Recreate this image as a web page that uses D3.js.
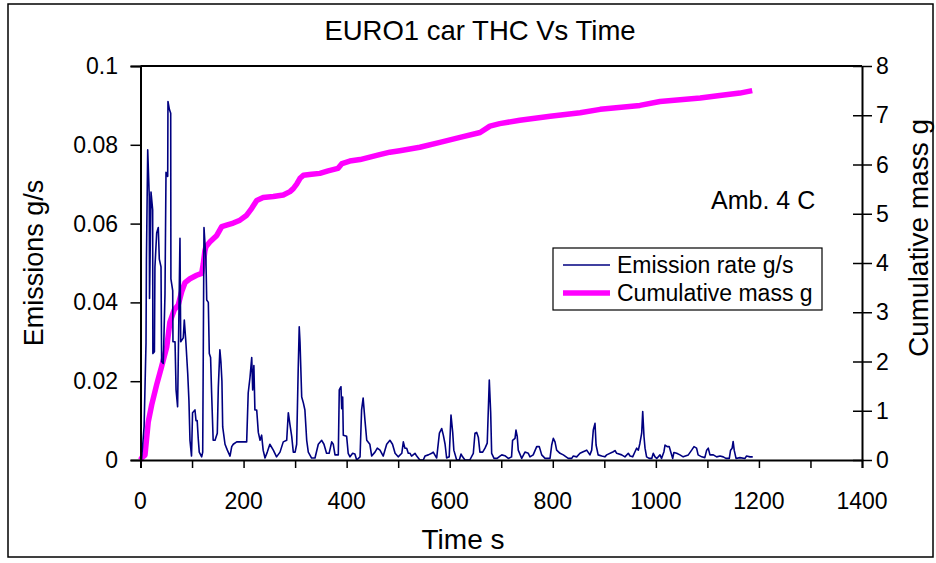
<!DOCTYPE html>
<html>
<head>
<meta charset="utf-8">
<script src="https://cdn.jsdelivr.net/npm/d3@7"></script>
<style>
  html, body { margin: 0; padding: 0; background: #fff; }
  text { font-family: "Liberation Sans", Arial, sans-serif; fill: #000; }
</style>
</head>
<body>
<svg id="chart" width="936" height="563"></svg>
<script>
// Emission rate trace (g/s) against time (s)
const rateTime = [0, 2, 7, 10.7, 11.5, 14, 17, 17.5, 20.4, 23.6, 24, 27, 28, 31.4, 34.5, 36.5, 39.8, 41, 44.2, 47.5, 49.5, 52.8, 53.3, 56, 58.6, 59, 62.5, 63, 67, 69, 72, 76.6, 78, 83, 85, 88, 91.6, 94, 96, 99, 101, 105.7, 107.7, 110, 112, 114, 118.7, 120.7, 123.2, 127, 128.5, 131.6, 133.5, 136, 138, 141, 144.6, 149, 151, 154, 156, 158, 159.5, 164, 168.5, 173.7, 177, 180, 186.7, 193, 206, 209, 212.5, 215.8, 217.7, 220, 222, 225.5, 228.6, 232, 235, 238, 241.6, 246, 251, 257.7, 264, 270.7, 277, 283.7, 286.8, 290, 293.4, 296.5, 300, 303, 306, 308, 309.5, 312.8, 316, 319, 322.5, 325.6, 332, 338.6, 345, 351.6, 356, 361, 366, 371, 374, 377.4, 383.8, 385.7, 389, 390.4, 392.3, 393.5, 400, 403, 406.5, 411.7, 416, 419.5, 426, 429, 432, 435.6, 439, 445, 448.6, 455, 459.5, 464.7, 471, 477.7, 484, 489, 494, 500, 507, 510, 513, 516.5, 519.6, 523, 526, 532.6, 536, 542, 548.7, 552, 558.5, 565, 568, 574.7, 580, 584.4, 587.6, 591, 594, 599, 602.5, 605.8, 608, 613.5, 618.6, 622, 625, 629.6, 639, 645.8, 649, 652.3, 655.5, 658.6, 664, 668.5, 672.8, 676.8, 679.5, 681.4, 686, 692, 697.6, 701, 707, 713.7, 720, 722, 726.7, 728.6, 731, 733, 739.7, 746, 752.5, 755.8, 762, 768.8, 773.8, 778.5, 785, 794.6, 797.9, 801, 804.3, 807.5, 814, 820.4, 830, 836.7, 839.8, 846.4, 852.8, 859, 865.8, 872, 875.5, 878.6, 881.9, 884, 888, 895, 901, 904.6, 917.4, 920.7, 924, 933.7, 940, 946.5, 950, 955, 959.5, 962.8, 966, 969, 972.5, 974.5, 977, 979, 982, 987, 992, 995, 998.4, 1001.7, 1008, 1011, 1015.7, 1017.8, 1022, 1026, 1028.8, 1032.7, 1035, 1040.4, 1046.8, 1053, 1063, 1069.5, 1074, 1079, 1082, 1089, 1095, 1098.6, 1101.7, 1105, 1111.5, 1118, 1124.5, 1130.8, 1136, 1142.5, 1145, 1148, 1150, 1152, 1155.6, 1163, 1173, 1176, 1182.6, 1188];
const rateValue = [0, 0, 0.0085, 0.0297, 0.0508, 0.0787, 0.0668, 0.041, 0.068, 0.0635, 0.027, 0.0275, 0.049, 0.0576, 0.059, 0.051, 0.049, 0.025, 0.0245, 0.042, 0.073, 0.072, 0.091, 0.089, 0.088, 0.046, 0.043, 0.030, 0.030, 0.0178, 0.0135, 0.0563, 0.030, 0.031, 0.0355, 0.030, 0.022, 0.015, 0.005, 0.001, 0.012, 0.0127, 0.010, 0.010, 0.0055, 0.002, 0.0008, 0.002, 0.059, 0.0508, 0.0406, 0.040, 0.027, 0.026, 0.017, 0.005, 0.005, 0.0068, 0.0185, 0.028, 0.025, 0.020, 0.0084, 0.004, 0.0025, 0.001, 0.0034, 0.004, 0.0046, 0.0046, 0.0046, 0.017, 0.021, 0.026, 0.0178, 0.024, 0.0127, 0.0127, 0.007, 0.005, 0.0063, 0.0025, 0.0005, 0.002, 0.004, 0.0025, 0.0008, 0.002, 0.0046, 0.005, 0.012, 0.009, 0.006, 0.002, 0.002, 0.004, 0.023, 0.0338, 0.030, 0.016, 0.0145, 0.0127, 0.005, 0.002, 0.0005, 0.0005, 0.004, 0.005, 0.004, 0.0017, 0.0017, 0.0046, 0.004, 0.0013, 0.0013, 0.0178, 0.0186, 0.013, 0.016, 0.0063, 0.006, 0.0017, 0.0008, 0.0017, 0.0015, 0, 0.0008, 0.0127, 0.0157, 0.010, 0.005, 0.004, 0.001, 0.002, 0.003, 0.0025, 0.001, 0.004, 0.005, 0.004, 0.0017, 0.0008, 0.0017, 0.0046, 0.003, 0.003, 0.0017, 0.0017, 0.001, 0.0017, 0.001, 0, 0, 0.001, 0.0013, 0.0017, 0.002, 0.0005, 0.0068, 0.008, 0.0063, 0.004, 0.0005, 0.0008, 0.0114, 0.007, 0.0025, 0, 0, 0.0015, 0.0008, 0, 0, 0.0017, 0.0068, 0.007, 0.0058, 0.002, 0.002, 0.003, 0.0043, 0.0203, 0.012, 0.0017, 0.0004, 0.0004, 0.001, 0.0013, 0.0011, 0.0004, 0.0008, 0.005, 0.0055, 0.0076, 0.006, 0.0025, 0.0004, 0.002, 0.0017, 0.0008, 0.0013, 0.0034, 0.0034, 0.0013, 0.0004, 0.0004, 0.0038, 0.0055, 0.0046, 0.0025, 0.0017, 0.0013, 0.0004, 0.0004, 0.001, 0.0008, 0.0017, 0.0021, 0.0025, 0.0013, 0.0025, 0.0076, 0.0093, 0.0038, 0.0013, 0.001, 0.0008, 0.0013, 0.0021, 0.0024, 0.0017, 0.0013, 0.0008, 0.0017, 0.001, 0.0008, 0.0021, 0.003, 0.0025, 0.0042, 0.0068, 0.0123, 0.0059, 0.003, 0.0008, 0.0004, 0.0004, 0.0017, 0.0008, 0.0004, 0.0013, 0.0004, 0.0021, 0.0038, 0.0034, 0.0034, 0.0021, 0.0004, 0.0019, 0.0017, 0.0013, 0.0008, 0.0013, 0.0025, 0.0034, 0.003, 0.0013, 0.0008, 0.0006, 0.0025, 0.003, 0.0013, 0.0013, 0.0008, 0.001, 0.0008, 0.0004, 0.0004, 0.0025, 0.003, 0.0047, 0.0025, 0.0004, 0.0006, 0.0004, 0.001, 0.0008, 0.0008];

// Cumulative mass (g) against time (s)
const massTime = [0, 3, 8.7, 12, 15, 21.7, 31.4, 41, 51, 57, 65.6, 73.3, 80, 86.3, 96, 109, 118.7, 121.9, 125, 127, 135, 148, 157.6, 167, 180, 193, 206, 215.8, 225.5, 238, 257.7, 277, 290, 296.5, 303, 309.5, 316, 332, 348, 364, 383, 391, 406, 426, 445, 464, 484, 503, 542, 581, 620, 659, 678, 697, 736, 795, 853, 892, 969, 1008, 1086, 1124, 1163, 1187];
const massValue = [0, 0.05, 0.1, 0.45, 0.77, 1.12, 1.53, 1.9, 2.3, 2.8, 3.05, 3.15, 3.42, 3.6, 3.68, 3.75, 3.79, 3.99, 4.25, 4.33, 4.43, 4.56, 4.74, 4.77, 4.81, 4.87, 4.97, 5.11, 5.27, 5.33, 5.35, 5.38, 5.45, 5.51, 5.6, 5.72, 5.78, 5.8, 5.82, 5.87, 5.92, 6.02, 6.07, 6.1, 6.15, 6.2, 6.25, 6.28, 6.35, 6.45, 6.55, 6.65, 6.78, 6.83, 6.9, 6.98, 7.05, 7.12, 7.2, 7.28, 7.35, 7.4, 7.45, 7.5];

// Axis ticks
const timeTicks = [0, 200, 400, 600, 800, 1000, 1200, 1400];
const timeMinorTicks = d3.range(0, 1401, 100);
const rateTicks = [0, 0.02, 0.04, 0.06, 0.08, 0.1];
const rateTickLabels = ["0", "0.02", "0.04", "0.06", "0.08", "0.1"];
const massTicks = [0, 1, 2, 3, 4, 5, 6, 7, 8];

const seriesNames = ["Emission rate g/s", "Cumulative mass g"];
const seriesColors = ["#000080", "#ff00ff"];

const svg = d3.select("#chart");
const plot = { left: 140.5, right: 862, top: 66, bottom: 460 };

const x = d3.scaleLinear().domain([0, 1400]).range([plot.left, plot.right]);
const yRate = d3.scaleLinear().domain([0, 0.1]).range([plot.bottom, plot.top]);
const yMass = d3.scaleLinear().domain([0, 8]).range([plot.bottom, plot.top]);

// Outer chart frame
svg.append("rect")
  .attr("x", 8).attr("y", 4).attr("width", 925).attr("height", 553)
  .attr("fill", "#fff").attr("stroke", "#000").attr("stroke-width", 1.5);

// Title
svg.append("text")
  .attr("x", 480).attr("y", 40)
  .attr("text-anchor", "middle")
  .attr("font-size", 27.5)
  .text("EURO1 car THC Vs Time");

// Series
const rateData = rateTime.map((t, i) => [t, rateValue[i]]);
const massData = massTime.map((t, i) => [t, massValue[i]]);

svg.append("path")
  .datum(massData)
  .attr("fill", "none")
  .attr("stroke", seriesColors[1])
  .attr("stroke-width", 5.5)
  .attr("stroke-linejoin", "round")
  .attr("d", d3.line().x(d => x(d[0])).y(d => yMass(d[1])));

svg.append("path")
  .datum(rateData)
  .attr("fill", "none")
  .attr("stroke", seriesColors[0])
  .attr("stroke-width", 1.6)
  .attr("stroke-linejoin", "round")
  .attr("d", d3.line().x(d => x(d[0])).y(d => yRate(d[1])));

// Plot box: top edge
svg.append("line")
  .attr("x1", plot.left).attr("x2", plot.right)
  .attr("y1", plot.top).attr("y2", plot.top)
  .attr("stroke", "#000").attr("stroke-width", 2);

// Bottom (time) axis
const xAxisG = svg.append("g").attr("transform", `translate(0,${plot.bottom})`);
xAxisG.call(d3.axisBottom(x).tickValues(timeMinorTicks).tickSize(8).tickFormat(""));
xAxisG.select(".domain").attr("stroke-width", 2);
xAxisG.selectAll(".tick line").attr("stroke-width", 1.5);
timeTicks.forEach(t => {
  svg.append("text")
    .attr("x", x(t)).attr("y", 509)
    .attr("text-anchor", "middle")
    .attr("font-size", 23)
    .text(t);
});

// Left (rate) axis
const yAxisL = svg.append("g").attr("transform", `translate(${plot.left},0)`);
yAxisL.call(d3.axisLeft(yRate).tickValues(rateTicks).tickSize(10).tickFormat(""));
yAxisL.select(".domain").attr("stroke-width", 2);
yAxisL.selectAll(".tick line").attr("stroke-width", 1.5);
rateTicks.forEach((v, i) => {
  svg.append("text")
    .attr("x", 118).attr("y", yRate(v) + 8)
    .attr("text-anchor", "end")
    .attr("font-size", 23)
    .text(rateTickLabels[i]);
});

// Right (mass) axis with crossing ticks
const yAxisR = svg.append("g").attr("transform", `translate(${plot.right},0)`);
yAxisR.call(d3.axisRight(yMass).tickValues(massTicks).tickSizeInner(10).tickSizeOuter(0).tickFormat(""));
yAxisR.select(".domain").attr("stroke-width", 2);
yAxisR.selectAll(".tick line").attr("x1", -9).attr("stroke-width", 1.5);
massTicks.forEach(v => {
  svg.append("text")
    .attr("x", 876).attr("y", yMass(v) + 8)
    .attr("font-size", 23)
    .text(v);
});

// Axis titles
svg.append("text")
  .attr("x", 463).attr("y", 549)
  .attr("text-anchor", "middle")
  .attr("font-size", 28)
  .text("Time s");

svg.append("text")
  .attr("transform", "translate(43,263) rotate(-90)")
  .attr("text-anchor", "middle")
  .attr("font-size", 27)
  .text("Emissions g/s");

svg.append("text")
  .attr("transform", "translate(928,238) rotate(-90)")
  .attr("text-anchor", "middle")
  .attr("font-size", 28)
  .text("Cumulative mass g");

// Annotation
svg.append("text")
  .attr("x", 711).attr("y", 209)
  .attr("font-size", 25)
  .text("Amb. 4 C");

// Legend
const legend = svg.append("g");
legend.append("rect")
  .attr("x", 553).attr("y", 248).attr("width", 269).attr("height", 62)
  .attr("fill", "#fff").attr("stroke", "#000").attr("stroke-width", 1.2);
const legendRows = [
  { y: 265, width: 1.6 },
  { y: 293, width: 5.5 }
];
legendRows.forEach((row, i) => {
  legend.append("line")
    .attr("x1", 563).attr("x2", 610)
    .attr("y1", row.y).attr("y2", row.y)
    .attr("stroke", seriesColors[i]).attr("stroke-width", row.width);
  legend.append("text")
    .attr("x", 617).attr("y", row.y + 8)
    .attr("font-size", 23)
    .text(seriesNames[i]);
});
</script>
</body>
</html>
